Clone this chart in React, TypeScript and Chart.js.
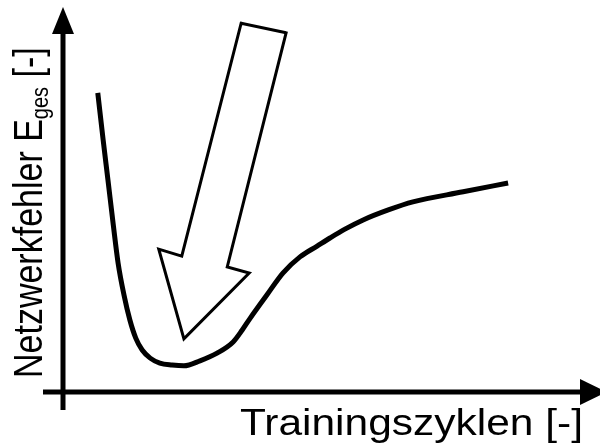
import React, { useEffect, useRef } from "react";
import { Chart, registerables } from "chart.js";

Chart.register(...registerables);

// Error curve (Trainingszyklen -> Netzwerkfehler), axis units 0..100
const curveX = [6.5, 7.5, 8.4, 9.4, 10.3, 11.4, 12.5, 13.6, 14.8, 16.3, 18.1, 20.4, 22.6, 25.6, 28.8, 31.8, 33.5, 35.0, 38.1, 41.1, 44.3, 47.5, 49.9, 52.7, 56.1, 60.8, 65.4, 74.8, 83.2];
const curveY = [77.7, 65.5, 55.1, 43.4, 33.5, 25.2, 18.7, 14.0, 10.9, 8.8, 7.5, 7.0, 6.8, 8.1, 10.1, 13.0, 16.1, 19.2, 25.2, 30.9, 35.1, 37.9, 40.0, 42.3, 44.7, 47.3, 49.4, 52.0, 54.3];

// Hollow arrow outline pointing to the minimum
const arrowX = [33.3, 41.7, 30.7, 34.8, 22.6, 17.9, 22.2, 33.3, 41.7];
const arrowY = [95.8, 93.3, 32.5, 30.9, 13.8, 37.1, 35.3, 95.8, 93.3];

const axisMin = 0;
const axisMax = 100;
const xAxisLabel = "Trainingszyklen [-]";
const yAxisLabelMain = "Netzwerkfehler E";
const yAxisLabelSub = "ges";
const yAxisLabelTail = " [-]";

const FONT = '"Liberation Sans", Arial, Helvetica, sans-serif';

const arrowAxesPlugin = {
  id: "arrowAxes",
  afterDraw(chart: any) {
    const ctx = chart.ctx as CanvasRenderingContext2D;
    const xs = chart.scales.x;
    const ys = chart.scales.y;
    const x0 = xs.getPixelForValue(axisMin);
    const y0 = ys.getPixelForValue(axisMin);
    const xEnd = xs.getPixelForValue(axisMax);
    const yEnd = ys.getPixelForValue(axisMax);
    ctx.save();
    ctx.strokeStyle = "#000";
    ctx.fillStyle = "#000";
    ctx.lineWidth = 5;
    ctx.lineCap = "butt";
    // y axis
    ctx.beginPath();
    ctx.moveTo(x0, y0 + 18);
    ctx.lineTo(x0, yEnd + 24);
    ctx.stroke();
    ctx.beginPath();
    ctx.moveTo(x0, yEnd);
    ctx.lineTo(x0 - 11, yEnd + 27);
    ctx.lineTo(x0 + 11, yEnd + 27);
    ctx.closePath();
    ctx.fill();
    // x axis
    ctx.beginPath();
    ctx.moveTo(x0 - 20, y0);
    ctx.lineTo(xEnd - 16, y0);
    ctx.stroke();
    ctx.beginPath();
    ctx.moveTo(xEnd + 9, y0);
    ctx.lineTo(xEnd - 18, y0 - 13);
    ctx.lineTo(xEnd - 18, y0 + 13);
    ctx.closePath();
    ctx.fill();

    // x label (horizontally stretched like the original)
    ctx.save();
    const xStretch = 1.18;
    ctx.font = "36px " + FONT;
    ctx.textAlign = "left";
    ctx.textBaseline = "alphabetic";
    const wx = ctx.measureText(xAxisLabel).width * xStretch;
    ctx.translate(583 - wx, 435);
    ctx.scale(xStretch, 1);
    ctx.fillText(xAxisLabel, 0, 0);
    ctx.restore();

    // y label (rotated, with subscript)
    ctx.save();
    ctx.translate(42, 378);
    ctx.scale(1.2, 1);
    ctx.rotate(-Math.PI / 2);
    ctx.textAlign = "left";
    ctx.textBaseline = "alphabetic";
    ctx.font = "34px " + FONT;
    ctx.fillText(yAxisLabelMain, 0, 0);
    const w1 = ctx.measureText(yAxisLabelMain).width;
    ctx.font = "20px " + FONT;
    ctx.fillText(yAxisLabelSub, w1, 5);
    const w2 = ctx.measureText(yAxisLabelSub).width;
    ctx.font = "34px " + FONT;
    ctx.fillText(yAxisLabelTail, w1 + w2, 0);
    ctx.restore();
    ctx.restore();
  },
};

export default function App() {
  const canvasRef = useRef<HTMLCanvasElement | null>(null);

  useEffect(() => {
    document.body.style.margin = "0";
    const canvas = canvasRef.current;
    if (!canvas) return;
    const chart = new Chart(canvas, {
      type: "line",
      data: {
        datasets: [
          {
            label: "Netzwerkfehler",
            data: curveX.map((x, i) => ({ x, y: curveY[i] })),
            borderColor: "#000",
            borderWidth: 5,
            pointRadius: 0,
            cubicInterpolationMode: "monotone",
            fill: false,
          },
          {
            label: "Pfeil",
            data: arrowX.map((x, i) => ({ x, y: arrowY[i] })),
            borderColor: "#000",
            borderWidth: 3,
            borderJoinStyle: "miter",
            pointRadius: 0,
            tension: 0,
            fill: false,
          },
        ],
      },
      options: {
        animation: false,
        responsive: false,
        maintainAspectRatio: false,
        layout: { padding: { left: 63, right: 2, top: 7, bottom: 56 } },
        plugins: {
          legend: { display: false },
          tooltip: { enabled: false },
          title: { display: false },
        },
        scales: {
          x: { type: "linear", min: axisMin, max: axisMax, display: false },
          y: { type: "linear", min: axisMin, max: axisMax, display: false },
        },
      },
      plugins: [arrowAxesPlugin],
    });
    return () => chart.destroy();
  }, []);

  return (
    <div style={{ position: "absolute", left: 0, top: 0, width: 600, height: 448, background: "#fff" }}>
      <canvas ref={canvasRef} width={600} height={448} style={{ display: "block", width: 600, height: 448 }} />
    </div>
  );
}
